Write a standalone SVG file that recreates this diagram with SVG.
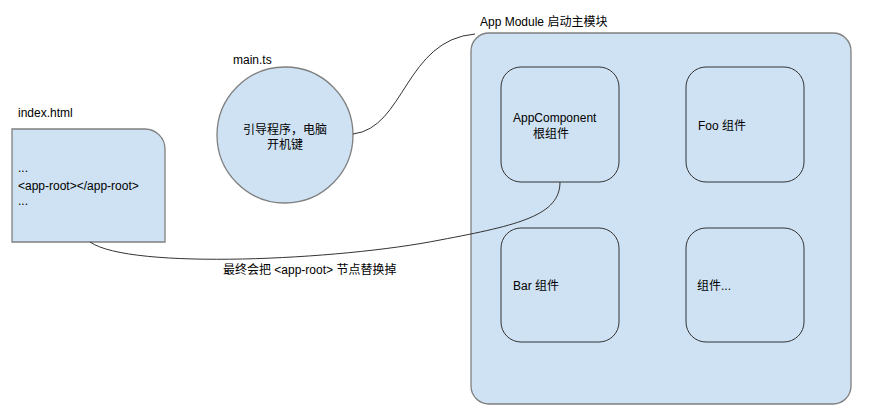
<svg xmlns="http://www.w3.org/2000/svg" width="888" height="418" viewBox="0 0 888 418">
<style>
.f{fill:#cfe2f3;stroke:#7f7f7f;stroke-width:1.3}
.c{fill:#cfe2f3;stroke:#333;stroke-width:1}
.t{font-family:"Liberation Sans","Noto Sans CJK SC",sans-serif;font-size:12px;fill:#000}
.m{text-anchor:middle}
.l{fill:none;stroke:#333;stroke-width:1}
</style>
<rect width="888" height="418" fill="#fff"/>
<g id="index">
<path class="f" d="M12,129 H145 A20,20 0 0 1 165,149 V242 H12 Z"/>
<text class="t" x="18" y="117">index.html</text>
<text class="t" x="18" y="172">...</text>
<text class="t" x="18" y="190">&lt;app-root&gt;&lt;/app-root&gt;</text>
<text class="t" x="18" y="205">...</text>
</g>
<g id="main">
<circle class="f" cx="285" cy="135" r="68"/>
<text class="t" x="233" y="64">main.ts</text>
<text class="t m" x="285" y="134">引导程序，电脑</text>
<text class="t m" x="285" y="149">开机键</text>
</g>
<g id="appmodule">
<rect class="f" x="471" y="33" width="380" height="371" rx="18"/>
<text class="t" x="480" y="26">App Module 启动主模块</text>
</g>
<g id="appcomponent">
<rect class="c" x="501" y="67" width="118" height="115" rx="20"/>
<text class="t" x="513" y="122">AppComponent</text>
<text class="t m" x="551" y="138">根组件</text>
</g>
<g id="foo">
<rect class="c" x="686" y="67" width="118" height="115" rx="20"/>
<text class="t" x="698" y="130">Foo 组件</text>
</g>
<g id="bar">
<rect class="c" x="501" y="228" width="118" height="114" rx="20"/>
<text class="t" x="513" y="290">Bar 组件</text>
</g>
<g id="more">
<rect class="c" x="686" y="228" width="118" height="114" rx="20"/>
<text class="t" x="697" y="290">组件...</text>
</g>
<g id="connectors">
<path class="l" d="M353,134 C405,128 405,40 475,34"/>
<path class="l" d="M560,182 C560,215 520,225 440,240 C340,260 130,270 90,242"/>
<text class="t" x="223" y="274">最终会把 &lt;app-root&gt; 节点替换掉</text>
</g>
</svg>
